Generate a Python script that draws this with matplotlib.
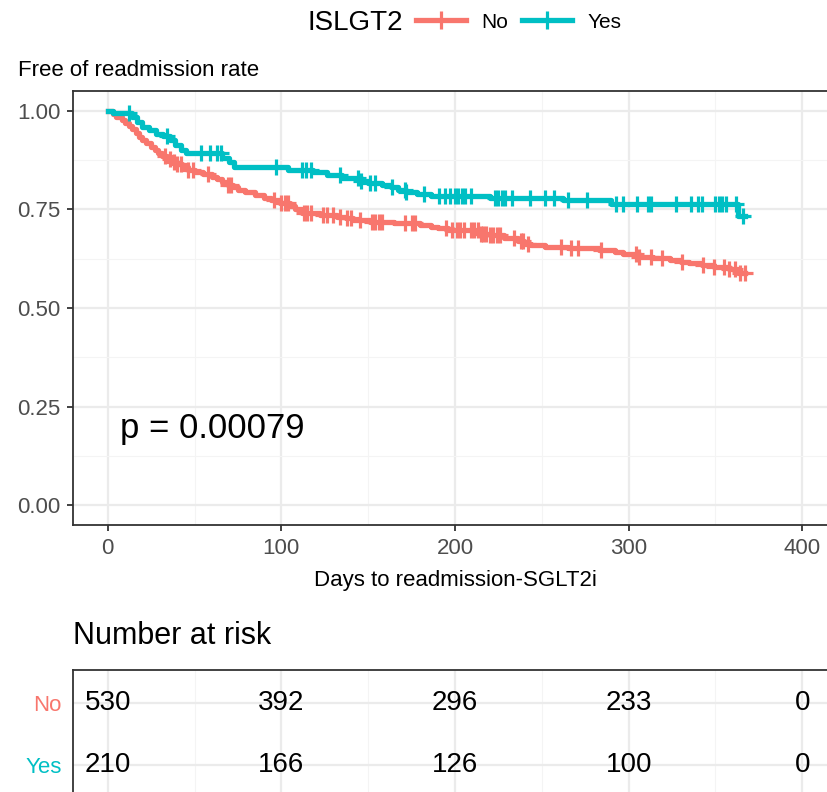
import numpy as np
import matplotlib
matplotlib.use('Agg')
import matplotlib.pyplot as plt
from matplotlib.lines import Line2D

plt.rcParams['font.family'] = ['Liberation Sans', 'DejaVu Sans']

# ---------------- data ----------------
groups = ['No', 'Yes']
group_colors = ['#F8766D', '#00BFC4']
legend_title = 'ISLGT2'

no_time = [0, 3, 5, 8, 10, 12, 14, 16, 18, 20, 22, 25, 27, 29, 31, 34, 37, 40, 43, 46,
           50, 55, 60, 63, 66, 69, 72, 75, 79, 85, 90, 94, 99, 105, 108, 112, 122, 132,
           137, 141, 151, 165, 180, 186, 190, 196, 215, 220, 228, 236, 240, 244, 252,
           265, 283, 292, 297, 306, 314, 324, 330, 335, 342, 349, 358, 363]
no_surv = [1.0, 0.992, 0.985, 0.977, 0.970, 0.962, 0.954, 0.944, 0.934, 0.926, 0.918,
           0.909, 0.900, 0.892, 0.884, 0.877, 0.871, 0.864, 0.857, 0.851, 0.845, 0.839,
           0.833, 0.826, 0.819, 0.812, 0.806, 0.800, 0.793, 0.786, 0.780, 0.774, 0.767,
           0.758, 0.750, 0.742, 0.736, 0.731, 0.727, 0.723, 0.719, 0.715, 0.710, 0.706,
           0.702, 0.697, 0.688, 0.684, 0.677, 0.670, 0.663, 0.659, 0.654, 0.651, 0.647,
           0.641, 0.636, 0.630, 0.626, 0.621, 0.617, 0.613, 0.609, 0.604, 0.600, 0.588]
no_censor = [33, 36, 38, 40, 42, 46, 49, 58, 69, 71, 96, 100, 102, 104, 113, 115, 117,
             124, 126, 130, 134, 138, 140, 145, 152, 154, 156, 158, 171, 175, 177, 195,
             198, 201, 203, 205, 209, 211, 213, 215, 216, 218, 220, 222, 224, 226, 234,
             238, 239, 242, 261, 267, 271, 284, 304, 306, 313, 319, 331, 343, 349, 355,
             358, 361, 364, 367]

yes_time = [0, 3, 14, 17, 20, 24, 28, 32, 36, 39, 42, 45, 66, 70, 73, 104, 118, 126, 135,
            146, 150, 158, 163, 167, 172, 178, 186, 220, 262, 290, 363]
yes_surv = [1.0, 0.995, 0.985, 0.972, 0.960, 0.950, 0.942, 0.935, 0.925, 0.912, 0.900,
            0.893, 0.881, 0.869, 0.857, 0.850, 0.845, 0.838, 0.830, 0.823, 0.818, 0.812,
            0.806, 0.800, 0.795, 0.790, 0.783, 0.779, 0.774, 0.763, 0.733]
yes_censor = [12, 34, 54, 59, 63, 65, 97, 112, 114, 117, 134, 144, 146, 151, 154, 164,
              171, 172, 182, 191, 194, 197, 200, 202, 204, 206, 209, 223, 225, 227, 229,
              233, 243, 252, 257, 265, 276, 293, 297, 305, 311, 313, 327, 336, 340, 342,
              350, 352, 354, 356, 362, 366]
end_time = 367

risk_times = [0, 100, 200, 300, 400]
risk_no = [530, 392, 296, 233, 0]
risk_yes = [210, 166, 126, 100, 0]

x_ticks = [0, 100, 200, 300, 400]
y_ticks = [0.0, 0.25, 0.50, 0.75, 1.00]
y_tick_labels = ['0.00', '0.25', '0.50', '0.75', '1.00']
p_text = 'p = 0.00079'
x_title = 'Days to readmission-SGLT2i'
y_title = 'Free of readmission rate'
table_title = 'Number at risk'

# ---------------- layout ----------------
W, H = 827, 792
fig = plt.figure(figsize=(W / 100, H / 100), dpi=100)


def box(l, t, r, b):
    return [l / W, 1 - b / H, (r - l) / W, (b - t) / H]


GRID_MAJ = '#EBEBEB'
GRID_MIN = '#F4F4F4'
FRAME = '#333333'

ax = fig.add_axes(box(73, 91, 837, 525))
ax.set_xlim(-20, 420)
ax.set_ylim(-0.05, 1.05)
ax.set_xticks(x_ticks)
ax.set_xticks([50, 150, 250, 350], minor=True)
ax.set_yticks(y_ticks)
ax.set_yticklabels(y_tick_labels)
ax.set_yticks([0.125, 0.375, 0.625, 0.875], minor=True)
ax.grid(which='major', color=GRID_MAJ, lw=1.6)
ax.grid(which='minor', color=GRID_MIN, lw=0.8)
ax.set_axisbelow(True)
for s in ax.spines.values():
    s.set_color(FRAME)
    s.set_linewidth(1.3)
ax.tick_params(which='major', length=4, width=1.3, color=FRAME, labelcolor='#4D4D4D',
               labelsize=16, pad=5)
ax.tick_params(which='minor', length=0)

series = [(no_time, no_surv, no_censor), (yes_time, yes_surv, yes_censor)]
handles = []
for (t, s, c), col in zip(series, group_colors):
    t_arr = np.array(t + [end_time], dtype=float)
    s_arr = np.array(s + [s[-1]], dtype=float)
    ax.step(t_arr, s_arr, where='post', color=col, lw=3.8, zorder=3)
    c_arr = np.array(c, dtype=float)
    idx = np.searchsorted(np.array(t, dtype=float), c_arr, side='right') - 1
    ax.plot(c_arr, np.array(s)[idx], ls='none', marker='+', color=col,
            markersize=11, mew=2.3, zorder=4)
    handles.append(Line2D([], [], color=col, lw=3.8, marker='+', markersize=13, mew=2.3))

ax.text(7, 0.195, p_text, fontsize=25, va='center', ha='left')
ax.set_xlabel(x_title, fontsize=16, labelpad=8)
fig.text(18 / W, 1 - 70 / H, y_title, fontsize=16, ha='left', va='center')

# legend
fig.text(355 / W, 1 - 23 / H, legend_title, fontsize=20, ha='center', va='center')
fig.legend(handles=handles, labels=groups, ncol=2, loc='center left',
           bbox_to_anchor=(406 / W, 1 - 22 / H), frameon=False, fontsize=15,
           handlelength=2.4, columnspacing=0.7, handletextpad=0.7, borderpad=0)

# risk table
fig.text(73 / W, 1 - 636 / H, table_title, fontsize=22, ha='left', va='center')
tx = fig.add_axes(box(73, 670, 837, 798))
tx.set_xlim(-20, 420)
tx.set_ylim(0.47, 2.53)
tx.set_xticks(x_ticks)
tx.set_xticks([50, 150, 250, 350], minor=True)
tx.set_yticks([2, 1])
tx.set_yticklabels(groups)
for lab, col in zip(tx.get_yticklabels(), group_colors):
    lab.set_color(col)
tx.tick_params(axis='y', length=0, labelsize=16, pad=8)
tx.tick_params(axis='x', length=0, labelbottom=False)
tx.tick_params(which='minor', length=0)
tx.grid(which='major', color=GRID_MAJ, lw=1.6)
tx.grid(which='minor', axis='x', color=GRID_MIN, lw=0.8)
tx.set_axisbelow(True)
for s in tx.spines.values():
    s.set_color(FRAME)
    s.set_linewidth(1.3)
for row, vals in zip([2, 1], [risk_no, risk_yes]):
    for tt, v in zip(risk_times, vals):
        tx.text(tt, row, str(v), fontsize=20, ha='center', va='center')

fig.savefig('out.png', dpi=100)
